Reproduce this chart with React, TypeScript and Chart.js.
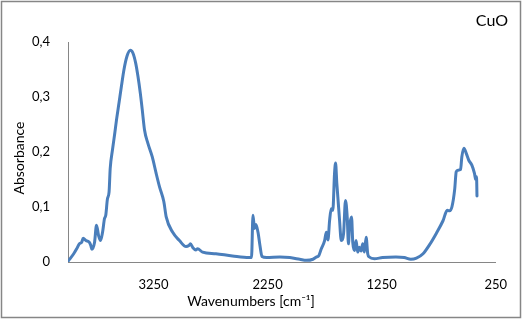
import React, { useEffect, useRef } from "react";
import { Chart, registerables } from "chart.js";

Chart.register(...registerables);

const seriesName = "CuO";
const xTitle = "Wavenumbers [cm⁻¹]";
const yTitle = "Absorbance";

const wavenumbers: number[] = [
  3997, 3950, 3924, 3901, 3880, 3867, 3843, 3814, 3800, 3791, 3767, 3750, 3732, 3715, 3697, 3680,
  3669, 3654, 3640, 3630, 3610, 3590, 3575, 3553, 3532, 3509, 3483, 3453, 3431, 3407, 3387, 3366,
  3349, 3329, 3300, 3261, 3227, 3198, 3160, 3139, 3082, 3023, 2965, 2940, 2927, 2905, 2880, 2864,
  2820, 2703, 2558, 2413, 2391, 2378, 2365, 2352, 2334, 2317, 2299, 2258, 2142, 2055, 1968, 1910,
  1852, 1822, 1800, 1779, 1750, 1735, 1721, 1706, 1692, 1678, 1663, 1654, 1643, 1634, 1619, 1604,
  1584, 1567, 1552, 1541, 1532, 1514, 1503, 1488, 1474, 1460, 1445, 1430, 1416, 1401, 1386, 1372,
  1358, 1314, 1242, 1125, 1052, 994, 945, 887, 828, 771, 712, 675, 654, 634, 610, 596,
  581, 558, 547, 529, 509, 486, 459, 436, 425, 418, 414,
];

const absorbance: number[] = [
  0.002, 0.015, 0.024, 0.033, 0.036, 0.043, 0.039, 0.036, 0.03, 0.023, 0.036, 0.067, 0.048, 0.039, 0.054, 0.079,
  0.085, 0.115, 0.127, 0.17, 0.204, 0.234, 0.258, 0.289, 0.319, 0.35, 0.374, 0.385, 0.38, 0.362, 0.338, 0.307,
  0.277, 0.24, 0.216, 0.191, 0.161, 0.137, 0.11, 0.082, 0.054, 0.039, 0.028, 0.03, 0.033, 0.026, 0.022, 0.024,
  0.018, 0.015, 0.011, 0.008, 0.008, 0.085, 0.061, 0.068, 0.054, 0.03, 0.01, 0.008, 0.009, 0.008, 0.005, 0.003,
  0.005, 0.009, 0.012, 0.024, 0.039, 0.054, 0.04, 0.076, 0.097, 0.094, 0.161, 0.18, 0.143, 0.118, 0.076, 0.039,
  0.051, 0.112, 0.082, 0.033, 0.064, 0.082, 0.035, 0.021, 0.039, 0.018, 0.027, 0.02, 0.033, 0.018, 0.045, 0.015,
  0.009, 0.006, 0.008, 0.009, 0.008, 0.005, 0.007, 0.015, 0.032, 0.052, 0.075, 0.094, 0.093, 0.1, 0.131, 0.164,
  0.167, 0.168, 0.191, 0.207, 0.198, 0.185, 0.176, 0.161, 0.15, 0.155, 0.12,
];

const xTickValues: number[] = [3250, 2250, 1250, 250];
const yTickValues: number[] = [0, 0.1, 0.2, 0.3, 0.4];

const FONT = "Lato, 'Open Sans', 'DejaVu Sans', sans-serif";
const LINE_COLOR = "#4A7EBB";
const AXIS_COLOR = "#868686";

const textPlugin = {
  id: "chartTexts",
  afterDraw(chart: any) {
    const ctx = chart.ctx as CanvasRenderingContext2D;
    ctx.save();
    // outer chart border
    ctx.strokeStyle = AXIS_COLOR;
    ctx.lineWidth = 1.5;
    ctx.strokeRect(1.5, 1.5, chart.width - 3, chart.height - 3);
    ctx.fillStyle = "#000";
    // series label top-right
    ctx.font = `16px ${FONT}`;
    ctx.textAlign = "right";
    ctx.textBaseline = "middle";
    ctx.fillText(seriesName, 508, 21);
    // x title
    ctx.font = `14px ${FONT}`;
    ctx.textAlign = "center";
    ctx.fillText(xTitle, 251, 301);
    // y title
    ctx.translate(19, 158);
    ctx.rotate(-Math.PI / 2);
    ctx.fillText(yTitle, 0, 0);
    ctx.restore();
  },
};

export default function App() {
  const canvasRef = useRef<HTMLCanvasElement | null>(null);

  useEffect(() => {
    document.body.style.margin = "0";
    const canvas = canvasRef.current;
    if (!canvas) return;
    const points = wavenumbers.map((w, i) => ({ x: w, y: absorbance[i] }));
    const chart = new Chart(canvas, {
      type: "line",
      data: {
        datasets: [
          {
            label: seriesName,
            data: points,
            borderColor: LINE_COLOR,
            backgroundColor: LINE_COLOR,
            borderWidth: 3,
            pointRadius: 0,
            cubicInterpolationMode: "monotone",
            borderJoinStyle: "round",
            borderCapStyle: "round",
            fill: false,
          },
        ],
      },
      options: {
        responsive: false,
        animation: false,
        devicePixelRatio: 1,
        layout: { padding: { top: 42, right: 24, left: 0, bottom: 0 } },
        plugins: {
          legend: { display: false },
          tooltip: { enabled: false },
          title: { display: false },
        },
        scales: {
          x: {
            type: "linear",
            reverse: true,
            min: 250,
            max: 4000,
            afterFit: (s: any) => {
              s.height = 57;
            },
            afterBuildTicks: (s: any) => {
              s.ticks = xTickValues.map((v) => ({ value: v }));
            },
            grid: { display: false, drawTicks: false },
            border: { display: true, color: AXIS_COLOR, width: 1 },
            ticks: {
              padding: 15,
              color: "#000",
              font: { family: FONT, size: 13 },
              maxRotation: 0,
              autoSkip: false,
              callback: (v: any) => String(v),
            },
          },
          y: {
            type: "linear",
            min: 0,
            max: 0.4,
            afterFit: (s: any) => {
              s.width = 68;
            },
            afterBuildTicks: (s: any) => {
              s.ticks = yTickValues.map((v) => ({ value: v }));
            },
            grid: { display: false, drawTicks: false },
            border: { display: true, color: AXIS_COLOR, width: 1 },
            ticks: {
              padding: 18,
              color: "#000",
              font: { family: FONT, size: 13 },
              callback: (v: any) => (Number(v) === 0 ? "0" : Number(v).toFixed(1).replace(".", ",")),
            },
          },
        },
      },
      plugins: [textPlugin],
    });
    return () => chart.destroy();
  }, []);

  return (
    <div style={{ position: "absolute", left: 0, top: 0, width: 522, height: 319, background: "#fff" }}>
      <canvas ref={canvasRef} width={522} height={319} />
    </div>
  );
}
